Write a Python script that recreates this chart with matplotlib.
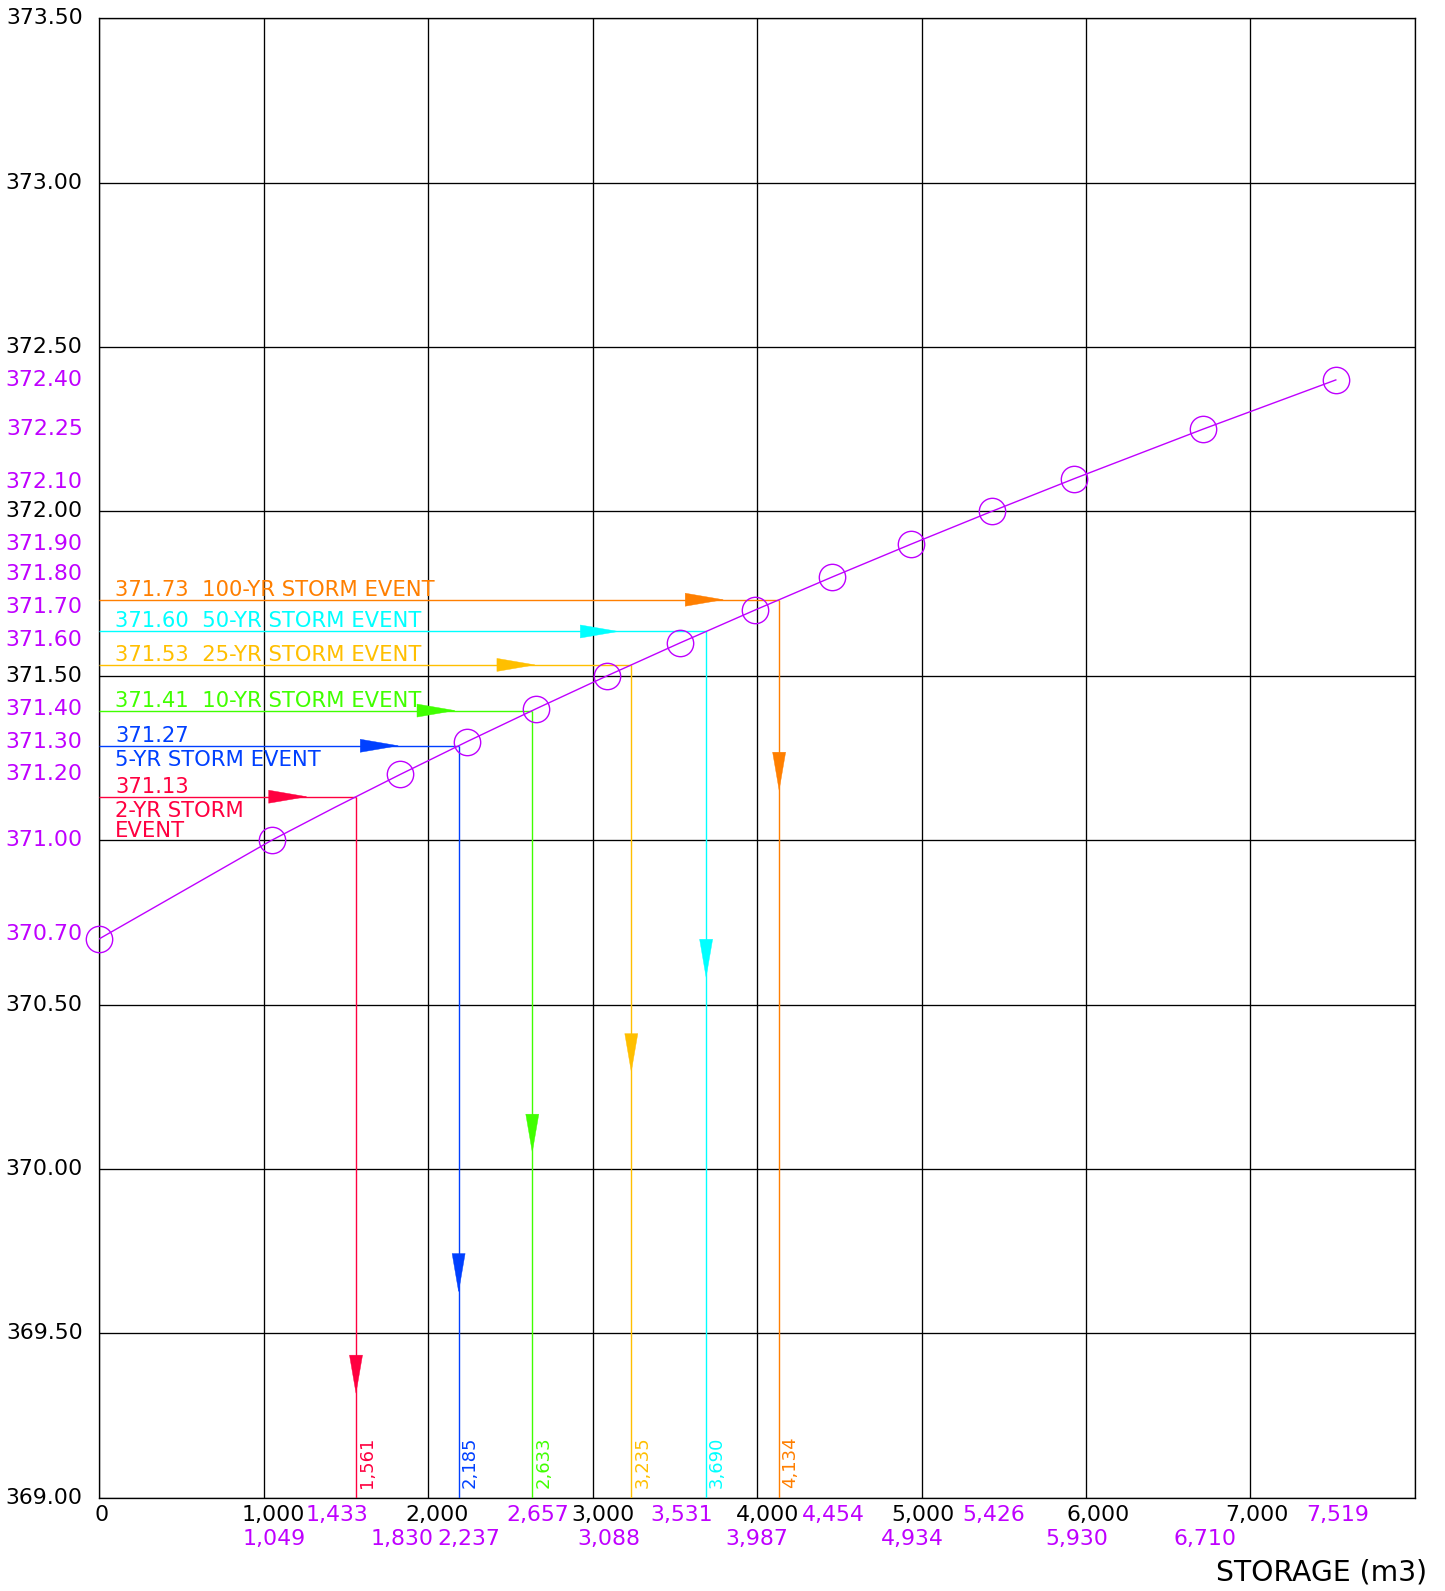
import matplotlib
matplotlib.use("Agg")
import numpy as np
import matplotlib.pyplot as plt
from matplotlib.patches import Polygon
from matplotlib.transforms import Affine2D, ScaledTranslation

# ---------------- data ----------------
storage = [0, 1049, 1433, 1830, 2237, 2657, 3088, 3531, 3987, 4454, 4934, 5426, 5930, 6710, 7519]
elevation = [370.70, 371.00, 371.10, 371.20, 371.30, 371.40, 371.50, 371.60, 371.70,
             371.80, 371.90, 372.00, 372.10, 372.25, 372.40]
circle_storage = [0, 1049, 1830, 2237, 2657, 3088, 3531, 3987, 4454, 4934, 5426, 5930, 6710, 7519]
circle_elev = [370.70, 371.00, 371.20, 371.30, 371.40, 371.50, 371.60, 371.70,
               371.80, 371.90, 372.00, 372.10, 372.25, 372.40]

elev_labels_magenta = [370.70, 371.00, 371.20, 371.30, 371.40, 371.60, 371.70,
                       371.80, 371.90, 372.10, 372.25, 372.40]
storage_labels_top = [1433, 2657, 3531, 4454, 5426, 7519]
storage_labels_bottom = [1049, 1830, 2237, 3088, 3987, 4934, 5930, 6710]

x_ticks = [0, 1000, 2000, 3000, 4000, 5000, 6000, 7000, 8000]
x_tick_labels = ["0", "1,000", "2,000", "3,000", "4,000", "5,000", "6,000", "7,000"]
y_ticks = [369.0, 369.5, 370.0, 370.5, 371.0, 371.5, 372.0, 372.5, 373.0, 373.5]

storm_years = ["2-YR", "5-YR", "10-YR", "25-YR", "50-YR", "100-YR"]
storm_elev = [371.13, 371.27, 371.41, 371.53, 371.60, 371.73]
storm_storage = [1561, 2185, 2633, 3235, 3690, 4134]
storm_h_arrow = [1261, 1818, 2163, 2649, 3156, 3794]          # arrow tip (storage)
storm_v_arrow = [369.318, 369.627, 370.051, 370.296, 370.583, 371.152]  # arrow tip (elev)

# ---------------- style ----------------
MAG = "#BF00FF"
storm_colors = ["#FF0040", "#0040FF", "#40FF00", "#FFBF00", "#00FFFF", "#FF7F00"]
x_label_dx = [2, 10, 9, 10, 10, 1, 12, 6]
mag_label_dy = {370.70: 5, 371.60: 3, 371.70: 3.5, 371.80: 3, 372.10: -3}
plt.rcParams["font.family"] = ["DejaVu Sans"]
TICK_FS = 15.8

W, H, DPI = 1445, 1591, 100
fig = plt.figure(figsize=(W / DPI, H / DPI), dpi=DPI)
ax = fig.add_axes([99.3 / W, 1 - 1497.7 / H, 1315.6 / W, 1479.4 / H])
ax.set_xlim(0, 8000)
ax.set_ylim(369.0, 373.5)
ax.set_xticks(x_ticks)
ax.set_yticks(y_ticks)
ax.tick_params(length=0, labelbottom=False, labelleft=False)
ax.grid(True, color="black", linewidth=0.95, zorder=0)
for s in ax.spines.values():
    s.set_linewidth(0.95)
    s.set_color("black")
ax.set_axisbelow(True)

def ann(text, xy, dx, dy, **kw):
    ax.annotate(text, xy=xy, xycoords="data", xytext=(dx, dy),
                textcoords="offset pixels", annotation_clip=False, **kw)

# black y labels (skip where a magenta elevation label sits)
for y in y_ticks:
    if any(abs(y - m) < 1e-6 for m in elev_labels_magenta):
        continue
    ann(f"{y:.2f}", (0, y), -16.6, 0, ha="right", va="center", fontsize=TICK_FS, color="black")
# magenta y labels
for y in elev_labels_magenta:
    ann(f"{y:.2f}", (0, y), -16.6, mag_label_dy.get(y, 0), ha="right", va="center",
        fontsize=TICK_FS, color=MAG)
# black x labels
for x, lab, dx in zip(x_ticks, x_tick_labels, x_label_dx):
    ann(lab, (x, 369.0), dx, -17, ha="center", va="center", fontsize=TICK_FS, color="black")
# magenta x labels
for x in storage_labels_top:
    ann(f"{x:,}", (x, 369.0), 2, -17, ha="center", va="center", fontsize=TICK_FS, color=MAG)
for x in storage_labels_bottom:
    ann(f"{x:,}", (x, 369.0), 2, -41, ha="center", va="center", fontsize=TICK_FS, color=MAG)

fig.text(1322 / W, 1 - 1573 / H, "STORAGE (m3)", ha="center", va="center",
         fontsize=20.3, color="black")

# stage-storage curve
ax.plot(storage, elevation, color=MAG, linewidth=1.0, zorder=4)
ax.plot(circle_storage, circle_elev, linestyle="none", marker="o", markersize=19,
        markerfacecolor="none", markeredgecolor=MAG, markeredgewidth=1.0, zorder=5,
        clip_on=False)

def arrow(x, y, verts, color):
    tr = Affine2D().scale(fig.dpi / 100.0) + ScaledTranslation(x, y, ax.transData)
    p = Polygon(verts, closed=True, transform=tr, facecolor=color, edgecolor=color,
                linewidth=0.3, zorder=6)
    ax.add_patch(p)

h_verts = [(0, 0), (-38, 6.5), (-38, -6.5)]
v_verts = [(0, 0), (-6.5, 38), (6.5, 38)]

# horizontal leaders are drawn where the storm storage meets the curve
drawn_elev = np.interp(storm_storage, storage, elevation)

SFS = 15.2
for i, (yr, e, s, c) in enumerate(zip(storm_years, storm_elev, storm_storage, storm_colors)):
    yd = drawn_elev[i]
    ax.plot([0, s], [yd, yd], color=c, linewidth=1.0, zorder=3, solid_capstyle="butt")
    ax.plot([s, s], [yd, 369.0], color=c, linewidth=1.0, zorder=3, solid_capstyle="butt")
    arrow(storm_h_arrow[i], yd, h_verts, c)
    arrow(s, storm_v_arrow[i], v_verts, c)
    if i == 0:
        ann(f"{e:.2f}", (0, yd), 16, 4, ha="left", va="baseline", fontsize=SFS, color=c)
        ann(f"{yr} STORM\nEVENT", (0, yd), 16, -4, ha="left", va="top", fontsize=SFS,
            color=c, linespacing=1.0)
    elif i == 1:
        ann(f"{e:.2f}", (0, yd), 16, 4, ha="left", va="baseline", fontsize=SFS, color=c)
        ann(f"{yr} STORM EVENT", (0, yd), 16, -4, ha="left", va="top", fontsize=SFS, color=c)
    else:
        ann(f"{e:.2f}  {yr} STORM EVENT", (0, yd), 16, 4, ha="left", va="baseline",
            fontsize=SFS, color=c)
    ann(f"{s:,}", (s, 369.0), 2, 10, ha="left", va="top", rotation=90,
        rotation_mode="anchor", fontsize=13, color=c)

fig.savefig("out.png", dpi=DPI, facecolor="white")
